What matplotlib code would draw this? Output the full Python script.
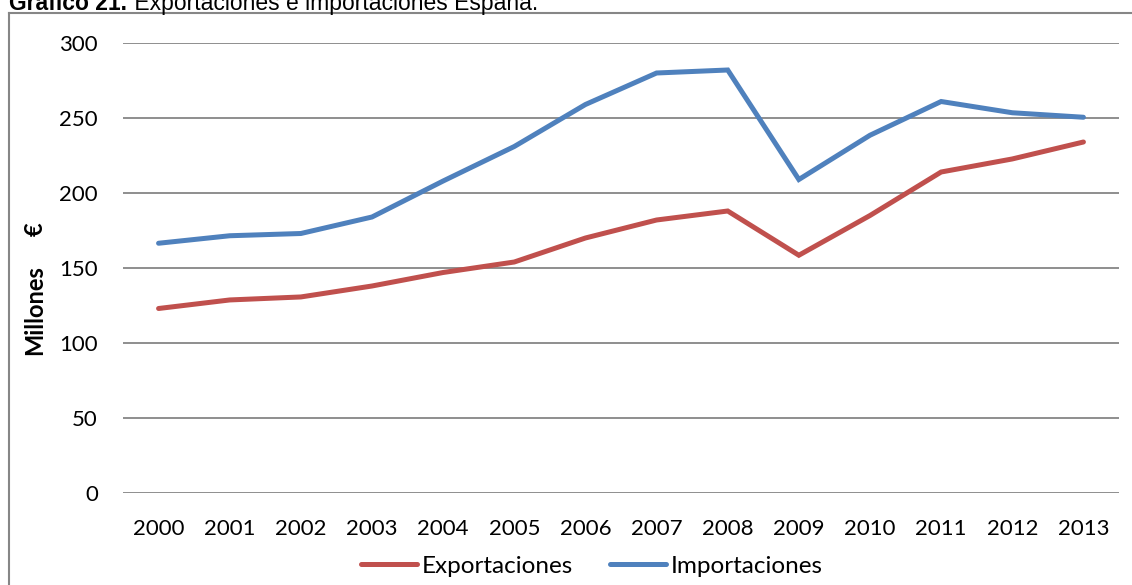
import matplotlib.pyplot as plt
from matplotlib.lines import Line2D

# Exportaciones e importaciones de España, millones de euros
years = ["2000", "2001", "2002", "2003", "2004", "2005", "2006",
         "2007", "2008", "2009", "2010", "2011", "2012", "2013"]
exportaciones = [123, 128.7, 130.7, 138, 147, 154, 170,
                 182, 188, 158.5, 185, 214, 222.7, 234]
importaciones = [166.5, 171.5, 173, 184, 208, 231, 259,
                 280, 282, 209, 238.5, 261, 253.5, 250.5]

RED = "#C0504D"
BLUE = "#4F81BD"
GRID = "#868686"
TICK_FONT = "Lato"

fig = plt.figure(figsize=(11.32, 5.85), dpi=100)
W, H = 1132, 585

# plot area in pixel coordinates
left, right, top, bottom = 123, 1119, 43, 493
ax = fig.add_axes([left / W, (H - bottom) / H, (right - left) / W, (bottom - top) / H])

x = range(len(years))
ax.plot(x, exportaciones, color=RED, linewidth=3.6, solid_capstyle="round",
        solid_joinstyle="miter", label="Exportaciones", zorder=3)
ax.plot(x, importaciones, color=BLUE, linewidth=3.6, solid_capstyle="round",
        solid_joinstyle="miter", label="Importaciones", zorder=3)

ax.set_xlim(-0.5, len(years) - 0.5)
ax.set_ylim(0, 300)
ax.set_yticks(range(0, 301, 50))
ax.set_xticks(list(x))
ax.set_xticklabels(years)
ax.yaxis.grid(True, color=GRID, linewidth=1.3)
ax.set_axisbelow(True)
for s in ax.spines.values():
    s.set_visible(False)
ax.tick_params(axis="both", length=0, labelsize=16)
ax.tick_params(axis="y", pad=18)
ax.tick_params(axis="x", pad=18.5)
for lbl in ax.get_xticklabels() + ax.get_yticklabels():
    lbl.set_family(TICK_FONT)

# axis title: word and unit set apart
fig.text(35 / W, 1 - 310 / H, "Millones", rotation=90, ha="center", va="center",
         fontsize=17, fontweight="bold", family=TICK_FONT)
fig.text(35 / W, 1 - 229 / H, "€", rotation=90, ha="center", va="center",
         fontsize=17, fontweight="bold", family=TICK_FONT)

handles = [Line2D([], [], color=RED, linewidth=3.6, solid_capstyle="round"),
           Line2D([], [], color=BLUE, linewidth=3.6, solid_capstyle="round")]
fig.legend(handles, ["Exportaciones", "Importaciones"], loc="center",
           bbox_to_anchor=(592 / W, 1 - 566 / H), ncol=2, frameon=False,
           handlelength=2.3, handletextpad=0.2, columnspacing=1.5,
           prop={"family": TICK_FONT, "size": 17.5})

# outer frame of the chart, open to the right and bottom
fig.add_artist(Line2D([8.5 / W, 8.5 / W], [0, 1 - 13 / H], color=GRID, linewidth=1.5,
                      transform=fig.transFigure))
fig.add_artist(Line2D([8.5 / W, 1], [1 - 13 / H, 1 - 13 / H], color=GRID, linewidth=1.5,
                      transform=fig.transFigure))

# caption sits above the frame
t1 = fig.text(9 / W, 1 - 10 / H, "Gráfico 21.", fontsize=16.5, fontweight="bold",
              family="Liberation Sans", va="baseline", ha="left")
fig.canvas.draw()
bb = t1.get_window_extent()
fig.text((bb.x1 + 1) / W, 1 - 10 / H, " Exportaciones e importaciones España.", fontsize=16.5,
         family="Liberation Sans", va="baseline", ha="left")

fig.savefig("out.png", dpi=100)
